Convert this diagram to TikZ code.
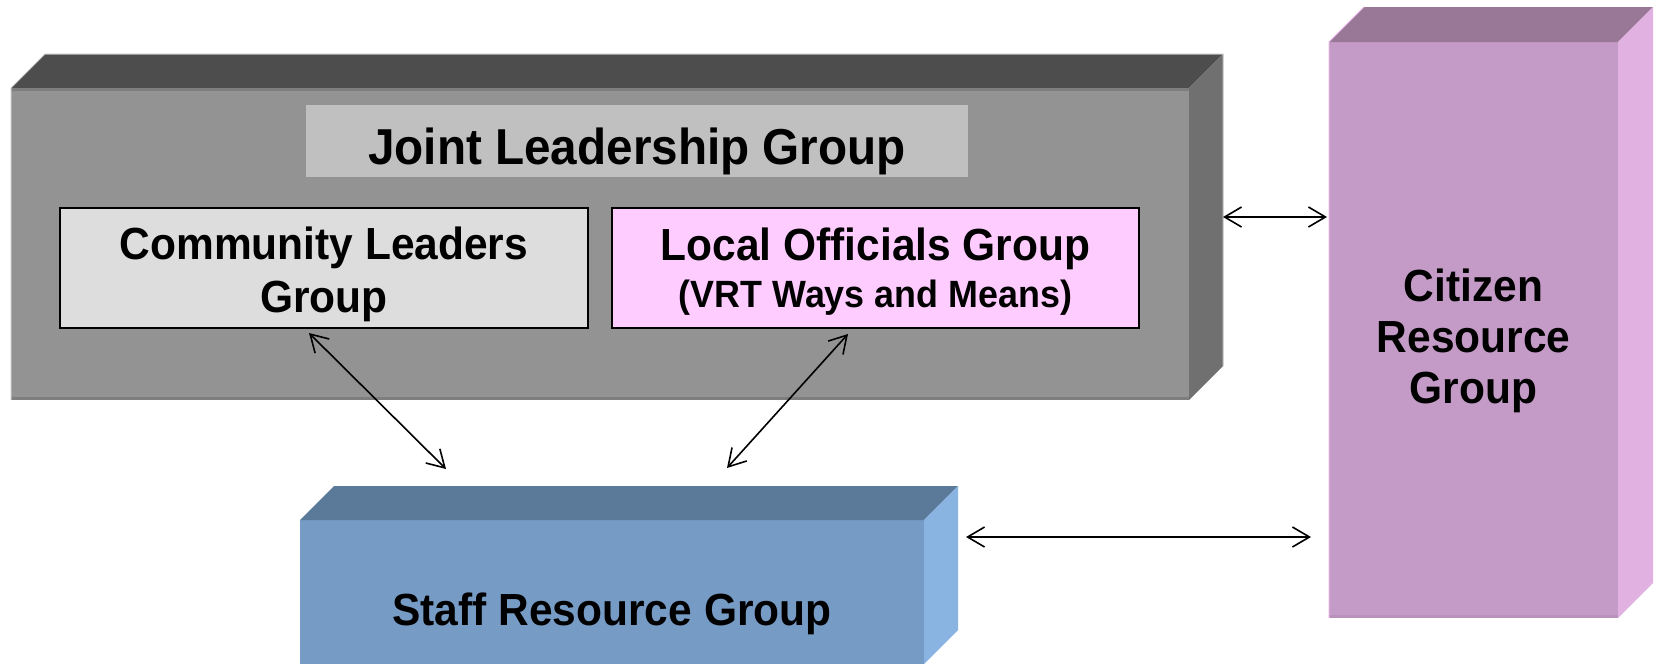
\documentclass[tikz,border=0pt]{standalone}
\usepackage{fontspec}
\setmainfont{Liberation Sans}
\newfontfamily\boxfont{Liberation Sans}[FakeStretch=0.944]
\usetikzlibrary{arrows.meta,calc}
\definecolor{grayFront}{HTML}{939393}
\definecolor{grayTop}{HTML}{4D4D4D}
\definecolor{graySide}{HTML}{707070}
\definecolor{grayEdge}{HTML}{7E7E7E}
\definecolor{grayLine}{HTML}{C4C4C4}
\definecolor{jointFill}{HTML}{C0C0C0}
\definecolor{commFill}{HTML}{DDDDDD}
\definecolor{localFill}{HTML}{FFCCFF}
\definecolor{citFront}{HTML}{C49BC6}
\definecolor{citTop}{HTML}{987896}
\definecolor{citSide}{HTML}{E1B2E1}
\definecolor{citEdge}{HTML}{B991BB}
\definecolor{staffFront}{HTML}{769BC5}
\definecolor{staffTop}{HTML}{5B7A9A}
\definecolor{staffSide}{HTML}{89B3E0}
\begin{document}
\begin{tikzpicture}[x=1pt,y=-1pt,
  face/.style={inner sep=0pt, outer sep=0pt, draw=none},
  innerbox/.style={draw=black, line width=2pt, inner sep=0pt},
  lbl/.style={inner sep=0pt, align=center, font=\boxfont\bfseries\fontsize{45}{53}\selectfont},
  biarrow/.style={{Straight Barb[length=17pt,width=20pt]}-{Straight Barb[length=17pt,width=20pt]},
    line width=1.6pt}
]
\useasboundingbox (0,0) rectangle (1657,664);

% ---------- grey 3D block ----------
\node[face, fill=grayFront, minimum width=1178pt, minimum height=312pt] (jlg) at (600,244) {};
\fill[grayTop] (jlg.north west) -- ++(34,-34) -- ($(jlg.north east)+(34,-34)$) -- (jlg.north east) -- cycle;
\fill[graySide] (jlg.north east) -- ++(34,-34) -- ($(jlg.south east)+(34,-34)$) -- (jlg.south east) -- cycle;
\fill[grayEdge] (jlg.north west) rectangle ($(jlg.north east)+(0,3)$);
\fill[grayEdge] ($(jlg.south west)+(0,-3)$) rectangle (jlg.south east);
\draw[grayLine, line width=1pt] (jlg.south west) -- (jlg.north west) -- ++(34,-34)
  -- ($(jlg.north east)+(34,-34)$) -- ($(jlg.south east)+(34,-34)$);

\node[face, fill=jointFill, minimum width=662pt, minimum height=72pt] (joint) at (637,141) {};
\node[lbl, font=\boxfont\bfseries\fontsize{50.5}{58}\selectfont] (jointlbl) at ($(joint.center)+(0,10)$)
  {Joint Leadership Group};

\node[innerbox, fill=commFill, minimum width=528pt, minimum height=120pt] (comm) at (324,268) {};
\node[lbl] (commlbl) at ($(comm.center)+(0,6)$) {Community Leaders\\Group};
\node[innerbox, fill=localFill, minimum width=527pt, minimum height=120pt] (local) at (875.5,268) {};
\node[lbl, font=\boxfont\bfseries\fontsize{45}{50}\selectfont] (locallbl) at ($(local.center)+(0,4)$)
  {Local Officials Group\\[-3pt]{\fontsize{38}{50}\selectfont (VRT Ways and Means)}};

% ---------- citizen 3D block ----------
\node[face, fill=citFront, minimum width=289pt, minimum height=576pt] (cit) at (1473.5,330) {};
\fill[citTop] (cit.north west) -- ++(35,-35) -- ($(cit.north east)+(35,-35)$) -- (cit.north east) -- cycle;
\fill[citSide] (cit.north east) -- ++(35,-35) -- ($(cit.south east)+(35,-35)$) -- (cit.south east) -- cycle;
\fill[citEdge] ($(cit.south west)+(0,-3)$) rectangle (cit.south east);
\draw[citSide, line width=1pt] (cit.south west) -- (cit.north west) -- ++(35,-35);
\node[lbl, font=\boxfont\bfseries\fontsize{45}{51}\selectfont] (citlbl) at (1473.5,341)
  {Citizen\\Resource\\Group};

% ---------- staff 3D block ----------
\node[face, fill=staffFront, minimum width=624pt, minimum height=144pt] (staff) at (612,592) {};
\fill[staffTop] (staff.north west) -- ++(34,-34) -- ($(staff.north east)+(34,-34)$) -- (staff.north east) -- cycle;
\fill[staffSide] (staff.north east) -- ++(34,-34) -- ($(staff.south east)+(34,-34)$) -- (staff.south east) -- cycle;
\node[lbl] (stafflbl) at (612,614) {Staff Resource Group};

% ---------- connectors ----------
\draw[biarrow] ($(jlg.north east)+(34,129)$) -- ($(cit.north west)+(-2,175)$);
\draw[biarrow] ($(staff.north east)+(42,17)$) -- ($(cit.north west)+(-18,495)$);
\draw[biarrow] ($(comm.south)+(-15,4)$) -- ($(staff.north)+(-166,-51)$);
\draw[biarrow] ($(local.south)+(-27.5,5)$) -- ($(staff.north)+(115,-52)$);
\end{tikzpicture}
\end{document}
